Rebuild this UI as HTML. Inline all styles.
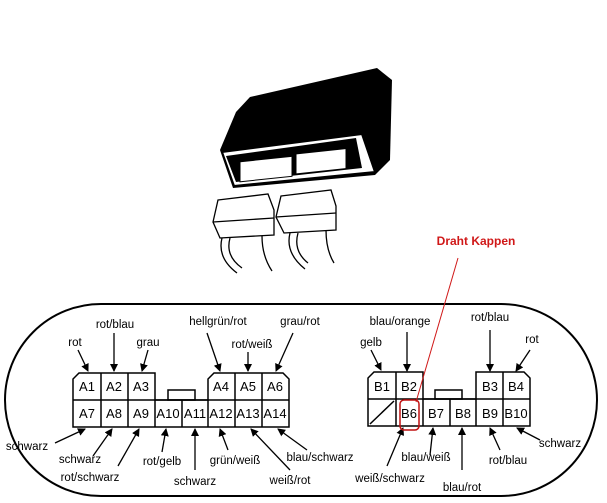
<!DOCTYPE html>
<html><head><style>
html,body{margin:0;padding:0;background:#fff;}
svg{display:block;}
text{font-family:"Liberation Sans",sans-serif;font-size:11.5px;fill:#000;}
.c{font-size:13px;text-anchor:middle;}
.l{text-anchor:middle;}
</style></head><body>
<svg width="607" height="503" viewBox="0 0 607 503" xmlns="http://www.w3.org/2000/svg">
<defs><marker id="ah" markerWidth="8" markerHeight="8" refX="7" refY="4" orient="auto" markerUnits="userSpaceOnUse"><path d="M0,0 L8,4 L0,8 Z" fill="#000"/></marker></defs>
<!-- ECU box -->
<polygon points="250,97 377,68 392,80 390,160 375,175 233,188 220,150 236,112" fill="#000"/>
<polygon points="222,152 362,134 375,172 234,186" fill="#fff" stroke="#000" stroke-width="2"/>
<polygon points="226,156 356,138 362,168 236,182" fill="#000"/>
<rect x="240" y="160" width="52" height="20" fill="#fff" stroke="#000" transform="skewY(-6) translate(0,27)"/>
<rect x="296" y="154" width="50" height="20" fill="#fff" stroke="#000" transform="skewY(-6) translate(0,31)"/>
<!-- plugs -->
<g fill="#fff" stroke="#000" stroke-width="1.3">
<polygon points="218,200 268,194 274,210 274,235 220,238 213,222"/>
<line x1="213" y1="222" x2="274" y2="218"/>
<polygon points="281,196 331,190 336,206 336,230 284,233 276,217"/>
<line x1="276" y1="217" x2="336" y2="213"/>
<path d="M222,238 q-5,20 15,35 M230,238 q-5,18 12,30 M262,236 q0,20 10,35 M290,233 q-5,20 15,36 M298,233 q-5,18 10,30 M326,230 q0,20 8,33" fill="none"/>
</g>
<!-- stadium -->
<rect x="5" y="304" width="592" height="192" rx="96" ry="96" fill="none" stroke="#000" stroke-width="2"/>
<!-- connector A -->
<g fill="none" stroke="#000" stroke-width="1.5">
<path d="M79,373 L155,373 L155,400 L208,400 L208,379 L214,373 L283,373 L289,379 L289,427 L73,427 L73,379 Z"/>
<line x1="73" y1="400" x2="289" y2="400"/>
<path d="M101,373V427M128,373V427M155,400V427M182,400V427M208,400V427M235,373V427M262,373V427"/>
<rect x="168" y="390" width="27" height="10"/>
<!-- connector B -->
<path d="M374,372 L423,372 L423,399 L476,399 L476,372 L524,372 L530,378 L530,426 L368,426 L368,378 Z"/>
<line x1="368" y1="399" x2="530" y2="399"/>
<path d="M396,372V426M423,399V426M450,399V426M476,399V426M503,372V426"/>
<line x1="370" y1="424" x2="394" y2="401"/>
<rect x="435" y="390" width="27" height="9"/>
</g>
<g>
<text x="87" y="391" class="c">A1</text><text x="114" y="391" class="c">A2</text><text x="141" y="391" class="c">A3</text>
<text x="221" y="391" class="c">A4</text><text x="248" y="391" class="c">A5</text><text x="275" y="391" class="c">A6</text>
<text x="87" y="418" class="c">A7</text><text x="114" y="418" class="c">A8</text><text x="141" y="418" class="c">A9</text>
<text x="168" y="418" class="c">A10</text><text x="195" y="418" class="c">A11</text><text x="221" y="418" class="c">A12</text>
<text x="248" y="418" class="c">A13</text><text x="275" y="418" class="c">A14</text>
<text x="382" y="391" class="c">B1</text><text x="409" y="391" class="c">B2</text><text x="490" y="391" class="c">B3</text><text x="516" y="391" class="c">B4</text>
<text x="409" y="418" class="c">B6</text><text x="436" y="418" class="c">B7</text><text x="463" y="418" class="c">B8</text><text x="490" y="418" class="c">B9</text><text x="516" y="418" class="c">B10</text>
</g>
<!-- arrows -->
<g stroke="#000" stroke-width="1.3" marker-end="url(#ah)">
<line x1="78" y1="350" x2="88" y2="371"/><line x1="114" y1="333" x2="114" y2="371"/><line x1="148" y1="350" x2="142" y2="371"/>
<line x1="207" y1="333" x2="220" y2="371"/><line x1="248" y1="352" x2="248" y2="371"/><line x1="293" y1="333" x2="276" y2="371"/>
<line x1="55" y1="443" x2="85" y2="429"/><line x1="93" y1="456" x2="112" y2="429"/><line x1="118" y1="466" x2="139" y2="429"/>
<line x1="162" y1="452" x2="166" y2="429"/><line x1="195" y1="470" x2="195" y2="429"/><line x1="228" y1="450" x2="220" y2="429"/>
<line x1="290" y1="470" x2="251" y2="429"/><line x1="307" y1="450" x2="278" y2="429"/>
<line x1="407" y1="332" x2="407" y2="371"/><line x1="371" y1="350" x2="381" y2="370"/><line x1="490" y1="330" x2="490" y2="371"/><line x1="530" y1="350" x2="516" y2="371"/>
<line x1="387" y1="466" x2="403" y2="428"/><line x1="430" y1="455" x2="433" y2="428"/><line x1="462" y1="470" x2="462" y2="428"/>
<line x1="500" y1="450" x2="490" y2="428"/><line x1="540" y1="440" x2="517" y2="428"/>
</g>
<!-- labels -->
<g>
<text x="75" y="346" class="l">rot</text><text x="115" y="328" class="l">rot/blau</text><text x="148" y="346" class="l">grau</text>
<text x="218" y="325" class="l">hellgrün/rot</text><text x="252" y="348" class="l">rot/weiß</text><text x="300" y="325" class="l">grau/rot</text>
<text x="27" y="450" class="l">schwarz</text><text x="80" y="463" class="l">schwarz</text><text x="90" y="481" class="l">rot/schwarz</text>
<text x="162" y="465" class="l">rot/gelb</text><text x="195" y="485" class="l">schwarz</text><text x="235" y="464" class="l">grün/weiß</text>
<text x="290" y="484" class="l">weiß/rot</text><text x="320" y="461" class="l">blau/schwarz</text>
<text x="400" y="325" class="l">blau/orange</text><text x="371" y="346" class="l">gelb</text><text x="490" y="321" class="l">rot/blau</text><text x="532" y="343" class="l">rot</text>
<text x="390" y="482" class="l">weiß/schwarz</text><text x="426" y="461" class="l">blau/weiß</text><text x="462" y="491" class="l">blau/rot</text>
<text x="508" y="464" class="l">rot/blau</text><text x="560" y="447" class="l">schwarz</text>
</g>
<!-- red annotation -->
<text x="476" y="245" style="font-size:12px;font-weight:bold;fill:#d01818;text-anchor:middle;font-family:'Liberation Sans Narrow','Liberation Sans',sans-serif;">Draht Kappen</text>
<line x1="458" y1="258" x2="416" y2="402" stroke="#d01818" stroke-width="1"/>
<rect x="400" y="400" width="19" height="30" rx="4" fill="none" stroke="#c01010" stroke-width="1.5"/>
</svg>
</body></html>
